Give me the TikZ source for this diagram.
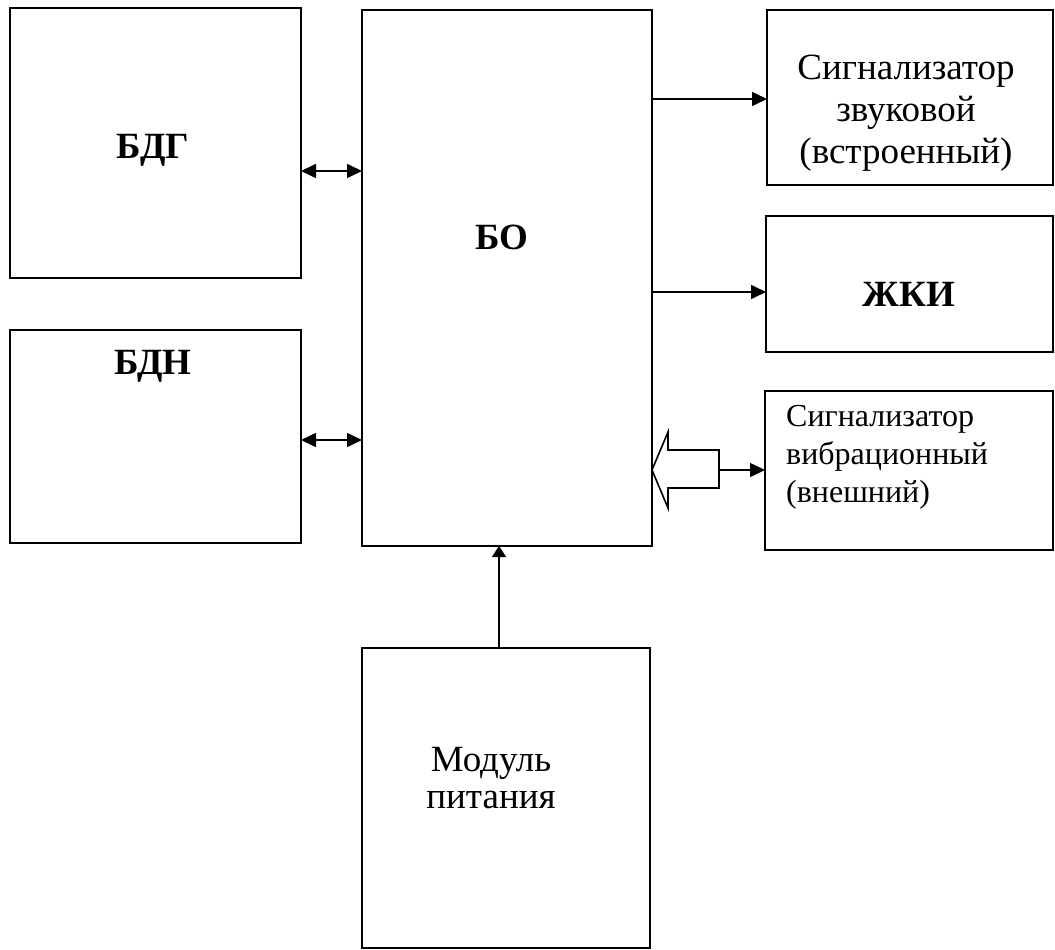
\documentclass[tikz,border=0pt]{standalone}
\usepackage{fontspec}
\setmainfont{Liberation Serif}
\usetikzlibrary{arrows.meta}
\begin{document}
\begin{tikzpicture}[x=1pt,y=-1pt,
  box/.style={draw,line width=1.8pt,inner sep=0pt,outer sep=0pt},
  lbl/.style={inner sep=0pt,font=\fontsize{37}{40}\selectfont\bfseries},
  txt/.style={inner sep=0pt,font=\fontsize{37}{42}\selectfont,align=center},
  ptxt/.style={inner sep=0pt,font=\fontsize{37}{37}\selectfont,align=center},
  vtxt/.style={inner sep=0pt,font=\fontsize{32}{38}\selectfont,align=left},
  conn/.style={line width=1.6pt,-{Triangle[length=15pt,width=14pt]}},
  dconn/.style={line width=1.6pt,{Triangle[length=15pt,width=14pt]}-{Triangle[length=15pt,width=14pt]}}]
\useasboundingbox (0,0) rectangle (1055,950);
\fill[white] (0,0) rectangle (1055,950);
% boxes
\node[box,minimum width=291pt,minimum height=270pt] (bdg) at (155.5,143) {};
\node[box,minimum width=291pt,minimum height=213pt] (bdn) at (155.5,436.5) {};
\node[box,minimum width=290pt,minimum height=536pt] (bo) at (507,278) {};
\node[box,minimum width=286pt,minimum height=175pt] (snd) at (910,97.5) {};
\node[box,minimum width=287pt,minimum height=136pt] (lcd) at (909.5,284) {};
\node[box,minimum width=288pt,minimum height=159pt] (vib) at (909,470.5) {};
\node[box,minimum width=288pt,minimum height=300pt] (pwr) at (506,798) {};
% labels
\node[lbl] (tbdg) at (153,150) {БДГ};
\node[lbl] (tbdn) at (153,366) {БДН};
\node[lbl] (tbo) at (502,237) {БО};
\node[lbl] (tlcd) at (909,294) {ЖКИ};
\node[txt] (tsnd) at (906,113) {Сигнализатор~\\звуковой\\(встроенный)};
\node[vtxt,anchor=north west] (tvib) at (786,405) {Сигнализатор\\вибрационный\\(внешний)};
\node[ptxt] (tpwr) at (491,778) {Модуль\\питания};
% connectors
\draw[dconn] (bdg.east |- 0,171) -- (bo.west |- 0,171);
\draw[dconn] (bdn.east |- 0,440) -- (bo.west |- 0,440);
\draw[conn] (bo.east |- 0,99) -- (snd.west |- 0,99);
\draw[conn] (bo.east |- 0,292) -- (lcd.west |- 0,292);
\draw[line width=1.6pt,-{Triangle[length=11pt,width=14pt]}] (pwr.north -| 499,0) -- (bo.south -| 499,0);
% hollow arrow
\coordinate (ha) at (719,470);
\draw[line width=1.6pt,line join=miter] (bo.east |- 0,470) -- (668,432) -- (668,450) -- (719,450) -- (719,488) -- (668,488) -- (668,508) -- cycle;
\draw[conn] (ha) -- (vib.west |- ha);
\end{tikzpicture}
\end{document}
